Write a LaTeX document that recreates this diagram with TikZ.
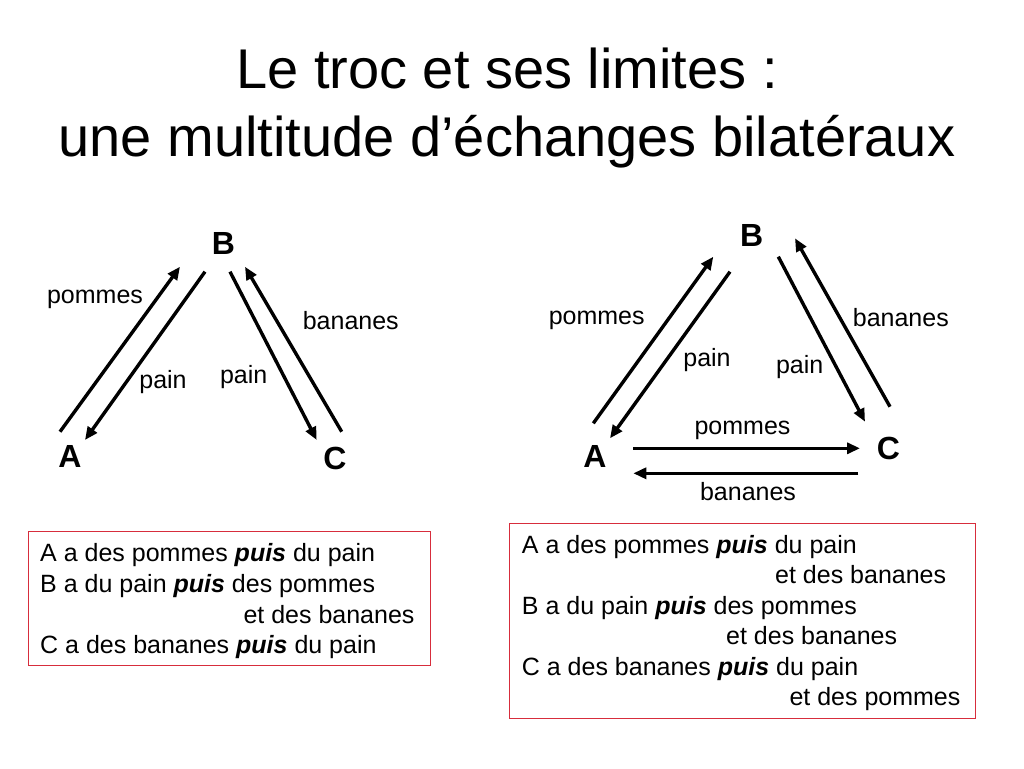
\documentclass[tikz,border=0pt]{standalone}
\usepackage{fontspec}
\setmainfont{Liberation Sans}
\usetikzlibrary{arrows.meta}
\definecolor{boxred}{RGB}{215,45,60}
\tikzset{
  flow/.style={line width=3.4pt,-{Triangle[length=13pt,width=11pt]}},
  party/.style={inner sep=0pt,font=\fontsize{32}{36}\selectfont\bfseries},
  good/.style={inner sep=0pt,font=\fontsize{25}{30}\selectfont},
  boxline/.style={inner sep=0pt,anchor=base west,font=\fontsize{25}{30}\selectfont},
  titleline/.style={inner sep=0pt,anchor=base,font=\fontsize{56}{67}\selectfont},
  framebox/.style={draw=boxred,line width=1pt}
}
\newcommand{\puisw}{\textbf{\textit{puis}}}
\begin{document}
\begin{tikzpicture}[x=1pt,y=-1pt]
\useasboundingbox (0,0) rectangle (1024,768);
\fill[white] (0,0) rectangle (1024,768);
% title
\node[titleline] (t1) at (507,88) {Le troc et ses limites :};
\node[titleline] (t2) at (507,156) {une multitude d’échanges bilatéraux};

% ---------- left diagram ----------
\node[party] (lB) at (223.5,243) {B};
\node[party] (lA) at (70,456) {A};
\node[party] (lC) at (335,458) {C};
\coordinate (l1s) at (60,431.7);   \coordinate (l1e) at (180,266.7);
\coordinate (l2s) at (205,271.7);  \coordinate (l2e) at (85,440);
\coordinate (l3s) at (230,271.7);  \coordinate (l3e) at (316.7,440);
\coordinate (l4s) at (341.7,431.7);\coordinate (l4e) at (245,266.7);
\draw[flow] (l1s) -- (l1e);
\draw[flow] (l2s) -- (l2e);
\draw[flow] (l3s) -- (l3e);
\draw[flow] (l4s) -- (l4e);
\node[good] (lp1) at (95,299) {pommes};
\node[good] (lp2) at (163,382) {pain};
\node[good] (lp3) at (243.7,376.7) {pain};
\node[good] (lb1) at (350.8,321) {bananes};

% ---------- right diagram ----------
\node[party] (rB) at (751.7,235) {B};
\node[party] (rA) at (595,456) {A};
\node[party] (rC) at (888.3,448.3) {C};
\coordinate (r1s) at (593.3,423.3); \coordinate (r1e) at (713.3,256.7);
\coordinate (r2s) at (730,271.7);   \coordinate (r2e) at (610,438.3);
\coordinate (r3s) at (778.3,256.7); \coordinate (r3e) at (865,421.7);
\coordinate (r4s) at (890,406.7);   \coordinate (r4e) at (795,238.3);
\coordinate (r5s) at (633.3,448.3); \coordinate (r5e) at (860,448.3);
\coordinate (r6s) at (858.3,473.3); \coordinate (r6e) at (633.3,473.3);
\draw[flow] (r1s) -- (r1e);
\draw[flow] (r2s) -- (r2e);
\draw[flow] (r3s) -- (r3e);
\draw[flow] (r4s) -- (r4e);
\draw[flow] (r5s) -- (r5e);
\draw[flow] (r6s) -- (r6e);
\node[good] (rp1) at (596.7,320.8) {pommes};
\node[good] (rp2) at (707,360) {pain};
\node[good] (rp3) at (799.7,367) {pain};
\node[good] (rb1) at (900.8,318) {bananes};
\node[good] (rp4) at (742.5,430.8) {pommes};
\node[good] (rb2) at (748,492) {bananes};

% ---------- left box ----------
\draw[framebox] (28.3,531.7) rectangle (430,665);
\node[boxline] (lt1) at (40,561.7) {A a des pommes \puisw{} du pain};
\node[boxline] (lt2) at (40,592.7) {B a du pain \puisw{} des pommes};
\node[boxline] (lt3) at (243.3,623.5) {et des bananes};
\node[boxline] (lt4) at (40,653.5) {C a des bananes \puisw{} du pain};

% ---------- right box ----------
\draw[framebox] (509.3,523.3) rectangle (975,718.3);
\node[boxline] (rt1) at (521.7,553) {A a des pommes \puisw{} du pain};
\node[boxline] (rt2) at (775,583) {et des bananes};
\node[boxline] (rt3) at (521.7,614) {B a du pain \puisw{} des pommes};
\node[boxline] (rt4) at (726,644.5) {et des bananes};
\node[boxline] (rt5) at (521.7,675) {C a des bananes \puisw{} du pain};
\node[boxline] (rt6) at (789.3,705.5) {et des pommes};
\end{tikzpicture}
\end{document}
